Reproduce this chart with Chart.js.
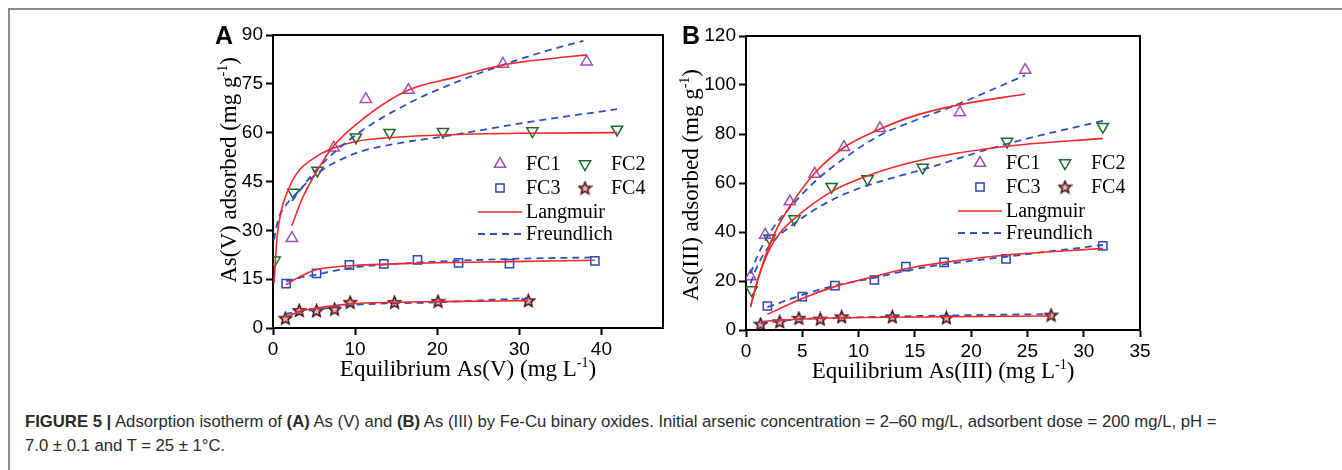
<!DOCTYPE html>
<html>
<head>
<meta charset="utf-8">
<script src="https://cdn.jsdelivr.net/npm/chart.js@4.4.1/dist/chart.umd.min.js"></script>
<style>
  body { margin: 0; background: #fff; width: 1342px; height: 470px; overflow: hidden; position: relative; }
  #frame { position: absolute; left: 8px; top: 8px; right: 0; bottom: 0; border-left: 2px solid #8c8c8c; border-top: 2px solid #8c8c8c; }
  canvas { position: absolute; top: 0; }
  #cA { left: 0; }
  #cB { left: 671px; }
  #caption { position: absolute; left: 25px; top: 410px; font: 16.7px 'Liberation Sans', Arial, sans-serif; color: #2a2a2a; line-height: 24px; white-space: nowrap; }
</style>
</head>
<body>
<div id="frame"></div>
<canvas id="cA" width="671" height="400"></canvas>
<canvas id="cB" width="671" height="400"></canvas>
<div id="caption"><b>FIGURE 5 |</b> Adsorption isotherm of <b>(A)</b> As (V) and <b>(B)</b> As (III) by Fe-Cu binary oxides. Initial arsenic concentration = 2–60 mg/L, adsorbent dose = 200 mg/L, pH =<br>7.0 ± 0.1 and T = 25 ± 1°C.</div>

<script>
// ---- panel A : As(V) ----
const aFC1x = [2.3, 7.4, 11.3, 16.5, 28.0, 38.2];
const aFC1y = [27.6, 55.4, 70.3, 73.1, 81.1, 81.8];
const aFC2x = [0.2, 2.5, 5.4, 10.1, 14.2, 20.7, 31.6, 41.9];
const aFC2y = [20.8, 41.6, 48.4, 58.6, 60.0, 60.3, 60.5, 61.0];
const aFC3x = [1.6, 5.3, 9.3, 13.5, 17.6, 22.6, 28.8, 39.2];
const aFC3y = [13.6, 16.8, 19.4, 19.7, 20.9, 20.0, 19.8, 20.6];
const aFC4x = [1.5, 3.2, 5.3, 7.5, 9.4, 14.8, 20.1, 31.1];
const aFC4y = [3.0, 5.4, 5.3, 5.8, 7.9, 7.9, 8.2, 8.4];

// fitted curves
const aFC1LangX = [2.3, 3.5, 5.3, 7.3, 11.3, 16.5, 22.0, 28.0, 34.0, 38.2];
const aFC1LangY = [31.4, 39.4, 48.0, 55.7, 64.9, 73.1, 76.9, 80.8, 82.8, 83.9];
const aFC1FreX = [2.3, 5.3, 10.1, 16.5, 22.0, 28.0, 33.0, 37.8];
const aFC1FreY = [39.0, 48.6, 59.3, 69.0, 75.2, 80.8, 84.9, 88.2];
const aFC2LangX = [0.12, 0.5, 1.0, 1.7, 2.9, 5.3, 7.3, 10.1, 15.0, 20.7, 30.0, 41.9];
const aFC2LangY = [13.8, 28.0, 36.0, 41.5, 47.5, 52.7, 55.2, 57.3, 58.6, 59.3, 59.8, 60.0];
const aFC2FreX = [0.12, 0.6, 1.5, 2.5, 5.4, 10.1, 15.0, 20.7, 31.5, 41.9];
const aFC2FreY = [27.1, 33.0, 37.5, 40.4, 47.5, 53.7, 56.6, 58.8, 63.4, 67.2];
const aFC3LangX = [1.6, 3.3, 5.3, 9.3, 17.6, 28.8, 39.2];
const aFC3LangY = [13.3, 15.8, 17.9, 19.1, 19.9, 20.4, 20.8];
const aFC3FreX = [1.6, 3.3, 5.3, 9.3, 17.6, 28.8, 39.2];
const aFC3FreY = [14.3, 15.5, 16.4, 18.4, 20.1, 21.2, 21.7];
const aFC4LangX = [1.5, 3.2, 5.3, 9.4, 14.8, 20.1, 31.1];
const aFC4LangY = [3.3, 5.1, 6.1, 7.4, 7.9, 8.1, 8.4];
const aFC4FreX = [1.5, 3.2, 5.3, 9.4, 20.1, 31.1];
const aFC4FreY = [4.3, 5.0, 5.6, 7.0, 7.9, 9.2];

// ---- panel B : As(III) ----
const bFC1x = [0.4, 1.7, 3.9, 6.1, 8.7, 11.9, 19.0, 24.8];
const bFC1y = [21.8, 38.8, 52.4, 63.7, 74.6, 82.3, 88.8, 106.1];
const bFC2x = [0.5, 2.1, 4.3, 7.6, 10.8, 15.7, 23.2, 31.7];
const bFC2y = [16.3, 37.4, 45.3, 58.5, 61.6, 66.3, 76.9, 83.0];
const bFC3x = [1.9, 5.0, 7.9, 11.4, 14.2, 17.6, 23.1, 31.7];
const bFC3y = [9.8, 13.6, 18.1, 20.4, 25.9, 27.6, 29.0, 34.3];
const bFC4x = [1.3, 3.0, 4.7, 6.6, 8.5, 13.0, 17.8, 27.1];
const bFC4y = [2.4, 3.4, 4.8, 4.5, 5.4, 5.4, 5.0, 6.1];

const bFC1LangX = [0.4, 1.0, 1.7, 2.7, 3.9, 6.1, 8.7, 11.9, 15.0, 19.0, 24.8];
const bFC1LangY = [9.5, 19.5, 30.0, 41.0, 50.5, 64.0, 74.5, 82.0, 87.5, 92.0, 96.3];
const bFC1FreX = [0.4, 1.0, 1.7, 2.7, 3.9, 6.1, 8.7, 11.9, 15.0, 19.0, 24.8];
const bFC1FreY = [23.0, 30.0, 36.5, 43.5, 50.0, 60.5, 70.0, 79.5, 85.5, 92.5, 104.0];
const bFC2LangX = [0.4, 1.0, 2.1, 3.0, 4.3, 7.6, 10.8, 15.7, 23.2, 31.7];
const bFC2LangY = [9.5, 20.0, 33.0, 39.5, 45.5, 56.5, 63.0, 69.5, 75.0, 78.2];
const bFC2FreX = [0.4, 1.0, 2.1, 4.3, 7.6, 10.8, 15.7, 23.2, 31.7];
const bFC2FreY = [19.0, 26.0, 34.5, 43.5, 53.0, 59.0, 65.5, 76.0, 85.4];
const bFC3LangX = [1.9, 5.0, 7.9, 11.4, 14.2, 17.6, 23.1, 31.7];
const bFC3LangY = [6.4, 12.9, 17.7, 21.8, 25.0, 27.6, 30.6, 33.3];
const bFC3FreX = [1.9, 5.0, 7.9, 11.4, 14.2, 17.6, 23.1, 31.7];
const bFC3FreY = [9.3, 14.3, 18.1, 21.3, 24.2, 26.8, 29.9, 34.7];
const bFC4LangX = [1.3, 4.7, 8.5, 17.8, 27.1];
const bFC4LangY = [3.4, 4.4, 5.0, 5.4, 5.7];
const bFC4FreX = [1.3, 4.7, 8.5, 17.8, 27.1];
const bFC4FreY = [2.7, 4.4, 5.0, 5.9, 6.5];

const seriesNames = ['FC1', 'FC2', 'FC3', 'FC4'];

const RED = '#f0282a';
const DASHBLUE = '#2e4fc0';

// little 5-point star used for FC4
function starImage(size, stroke, fill) {
  const c = document.createElement('canvas');
  c.width = c.height = size;
  const g = c.getContext('2d');
  const cx = size / 2, cy = size / 2 + 0.5, ro = size / 2 - 1.2, ri = ro * 0.45;
  g.beginPath();
  for (let i = 0; i < 10; i++) {
    const r = i % 2 ? ri : ro;
    const a = -Math.PI / 2 + i * Math.PI / 5;
    g.lineTo(cx + r * Math.cos(a), cy + r * Math.sin(a));
  }
  g.closePath();
  g.fillStyle = fill; g.fill();
  g.lineWidth = 1.6; g.strokeStyle = stroke; g.stroke();
  return c;
}

const markers = {
  FC1: { pointStyle: 'triangle', rotation: 0, radius: 6.5, color: '#a24bbd' },
  FC2: { pointStyle: 'triangle', rotation: 180, radius: 6.5, color: '#1d6b2b' },
  FC3: { pointStyle: 'rect', rotation: 0, radius: 5.8, color: '#2449b8' },
  FC4: { pointStyle: starImage(15, '#4a0b10', '#e6b8ae'), rotation: 0, radius: 6, color: '#4a0b10' }
};

const pts = (xs, ys) => xs.map((x, i) => ({ x, y: ys[i] }));

function markerSet(name, xs, ys) {
  const m = markers[name];
  return {
    label: name, data: pts(xs, ys), showLine: false,
    pointStyle: m.pointStyle, pointRotation: m.rotation, pointRadius: m.radius,
    pointBorderColor: m.color, pointBackgroundColor: 'rgba(0,0,0,0)', pointBorderWidth: 1.5
  };
}

function curve(xs, ys, dashed) {
  return {
    data: pts(xs, ys), showLine: true, pointRadius: 0,
    borderColor: dashed ? DASHBLUE : RED, borderWidth: dashed ? 1.8 : 1.6,
    borderDash: dashed ? [7, 5] : [], cubicInterpolationMode: 'monotone', fill: false
  };
}

function supText(ctx, parts, x, y, rot) {
  const big = '23px "Liberation Serif"', small = '14px "Liberation Serif"';
  ctx.save();
  ctx.translate(x, y);
  ctx.rotate(rot);
  let w = 0;
  parts.forEach(([t, s]) => { ctx.font = s ? small : big; w += ctx.measureText(t).width; });
  let cx = -w / 2;
  ctx.textAlign = 'left';
  ctx.textBaseline = 'alphabetic';
  ctx.fillStyle = '#000';
  parts.forEach(([t, s]) => {
    ctx.font = s ? small : big;
    ctx.fillText(t, cx, s ? -1 : 8);
    cx += ctx.measureText(t).width;
  });
  ctx.restore();
}

// frame, panel letter, axis titles and the legend block
const decor = {
  id: 'decor',
  afterDraw(chart) {
    const o = chart.config.options.decorInfo;
    const { ctx, chartArea: a } = chart;
    ctx.save();
    ctx.strokeStyle = '#000';
    ctx.lineWidth = 2;
    ctx.beginPath();
    ctx.moveTo(a.left, a.top);
    ctx.lineTo(a.right, a.top);
    ctx.lineTo(a.right, a.bottom);
    ctx.stroke();

    ctx.font = 'bold 25px "Liberation Sans"';
    ctx.fillStyle = '#000';
    ctx.textAlign = 'center';
    ctx.textBaseline = 'middle';
    ctx.fillText(o.letter, o.letterX, o.letterY);

    supText(ctx, o.xTitle, (a.left + a.right) / 2, a.bottom + 40, 0);
    supText(ctx, o.yTitle, o.yTitleX, o.yTitleY, -Math.PI / 2);

    // legend
    const lx = a.left + o.legX, ly = a.top + o.legY;
    ctx.font = '20px "Liberation Serif"';
    ctx.textAlign = 'left';
    ctx.textBaseline = 'middle';
    seriesNames.forEach((n, i) => {
      const mx = lx + (i % 2) * 85, my = ly + Math.floor(i / 2) * 24;
      const m = markers[n];
      ctx.strokeStyle = m.color;
      ctx.fillStyle = 'rgba(0,0,0,0)';
      ctx.lineWidth = 1.5;
      Chart.helpers.drawPoint(ctx, { pointStyle: m.pointStyle, rotation: m.rotation, radius: m.radius, borderWidth: 1.5 }, mx, my);
      ctx.fillStyle = '#000';
      ctx.fillText(n, mx + 26, my + 1);
    });
    [['Langmuir', false], ['Freundlich', true]].forEach(([t, dashed], i) => {
      const y = ly + 48 + i * 22;
      ctx.strokeStyle = dashed ? DASHBLUE : RED;
      ctx.lineWidth = dashed ? 1.8 : 1.6;
      ctx.setLineDash(dashed ? [7, 5] : []);
      ctx.beginPath();
      ctx.moveTo(lx - 22, y);
      ctx.lineTo(lx + 22, y);
      ctx.stroke();
      ctx.setLineDash([]);
      ctx.fillStyle = '#000';
      ctx.fillText(t, lx + 26, y + 1);
    });
    ctx.restore();
  }
};

function axis(min, max, step, fixW, fixH) {
  return {
    type: 'linear', min, max,
    ticks: { stepSize: step, includeBounds: false, color: '#000', padding: 3, font: { family: 'Liberation Sans', size: 19 } },
    grid: { display: true, drawOnChartArea: false, drawTicks: true, tickLength: 7, tickWidth: 2, color: '#000' },
    border: { display: true, color: '#000', width: 2 },
    afterFit(s) { if (fixW) s.width = fixW; if (fixH) s.height = fixH; }
  };
}

function makeChart(id, datasets, xs, ys, pad, info) {
  return new Chart(document.getElementById(id).getContext('2d'), {
    type: 'scatter',
    data: { datasets },
    options: {
      responsive: false,
      animation: false,
      layout: { padding: pad },
      scales: { x: xs, y: ys },
      plugins: { legend: { display: false }, tooltip: { enabled: false } },
      decorInfo: info
    },
    plugins: [decor]
  });
}

makeChart('cA', [
  curve(aFC1LangX, aFC1LangY, false), curve(aFC1FreX, aFC1FreY, true),
  curve(aFC2LangX, aFC2LangY, false), curve(aFC2FreX, aFC2FreY, true),
  curve(aFC3LangX, aFC3LangY, false), curve(aFC3FreX, aFC3FreY, true),
  curve(aFC4LangX, aFC4LangY, false), curve(aFC4FreX, aFC4FreY, true),
  markerSet('FC1', aFC1x, aFC1y), markerSet('FC2', aFC2x, aFC2y),
  markerSet('FC3', aFC3x, aFC3y), markerSet('FC4', aFC4x, aFC4y)
], axis(0, 47.5, 10, 0, 30), axis(0, 90, 15, 50, 0),
  { left: 223, right: 7, top: 35, bottom: 42 },
  {
    letter: 'A', letterX: 224, letterY: 37,
    xTitle: [['Equilibrium As(V) (mg L', false], ['-1', true], [')', false]],
    yTitle: [['As(V) adsorbed (mg g', false], ['-1', true], [')', false]],
    yTitleX: 228, yTitleY: 170, legX: 227, legY: 129
  });

makeChart('cB', [
  curve(bFC1LangX, bFC1LangY, false), curve(bFC1FreX, bFC1FreY, true),
  curve(bFC2LangX, bFC2LangY, false), curve(bFC2FreX, bFC2FreY, true),
  curve(bFC3LangX, bFC3LangY, false), curve(bFC3FreX, bFC3FreY, true),
  curve(bFC4LangX, bFC4LangY, false), curve(bFC4FreX, bFC4FreY, true),
  markerSet('FC1', bFC1x, bFC1y), markerSet('FC2', bFC2x, bFC2y),
  markerSet('FC3', bFC3x, bFC3y), markerSet('FC4', bFC4x, bFC4y)
], axis(0, 35, 5, 0, 30), axis(0, 120, 20, 50, 0),
  { left: 25, right: 202, top: 36, bottom: 40 },
  {
    letter: 'B', letterX: 20, letterY: 37,
    xTitle: [['Equilibrium As(III) (mg L', false], ['-1', true], [')', false]],
    yTitle: [['As(III) adsorbed (mg g', false], ['-1', true], [')', false]],
    yTitleX: 19, yTitleY: 185, legX: 234, legY: 127
  });
</script>
</body>
</html>
